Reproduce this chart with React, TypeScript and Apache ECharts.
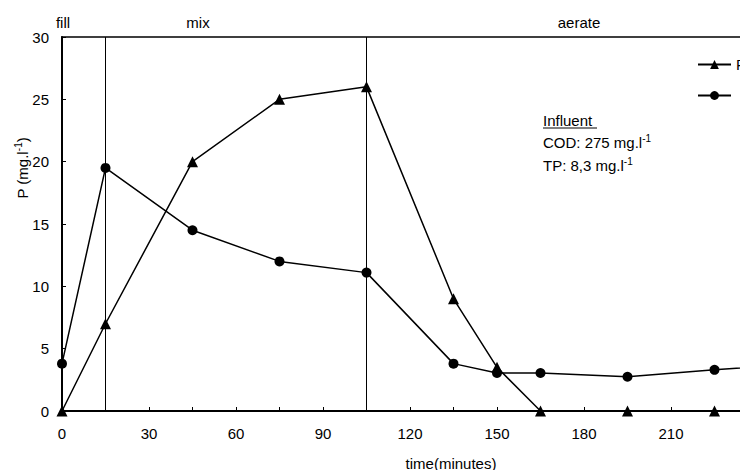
import React, { useEffect, useRef } from "react";
import * as echarts from "echarts";

const timeMin = [0, 15, 45, 75, 105, 135, 150, 165, 195, 225, 255];
const pRelease = [0, 7, 20, 25, 26, 9, 3.5, 0, 0, 0, 0];
const pOther = [3.8, 19.5, 14.5, 12, 11.1, 3.8, 3.05, 3.05, 2.75, 3.3, 3.8];
const phaseNames = ["fill", "mix", "aerate"];
const phaseBounds = [15, 105];
const yTicks = [0, 5, 10, 15, 20, 25, 30];

const FONT = "Liberation Sans, Arial, sans-serif";
const FS = 15;

export default function App() {
  const ref = useRef<HTMLDivElement>(null);
  useEffect(() => {
    if (!ref.current) return;
    const chart = echarts.init(ref.current, undefined, { renderer: "svg" });
    const sup = { fontSize: 10, verticalAlign: "top", lineHeight: 17, fontFamily: FONT, color: "#000" };
    const base = { fontSize: FS, lineHeight: 17, fontFamily: FONT, color: "#000" };
    const centered = { align: "center", verticalAlign: "middle", textAlign: "center", textVerticalAlign: "middle" };
    const lefted = { align: "left", verticalAlign: "middle", textAlign: "left", textVerticalAlign: "middle" };
    const font = `${FS}px ${FONT}`;
    chart.setOption({
      animation: false,
      backgroundColor: "#fff",
      textStyle: { fontFamily: FONT, color: "#000" },
      grid: {
        left: 62,
        top: 37,
        width: 696,
        bottom: 59,
        show: true,
        borderColor: "#000",
        borderWidth: 1.5,
      },
      legend: {
        orient: "vertical",
        left: 692,
        top: 52,
        itemWidth: 33,
        itemHeight: 11,
        itemGap: 16,
        textStyle: { fontSize: FS, fontFamily: FONT, color: "#000" },
        data: ["P-release", " P-uptake"],
      },
      xAxis: {
        type: "value",
        min: 0,
        max: 240,
        interval: 15,
        axisLine: { show: true, lineStyle: { color: "#000", width: 2 } },
        axisTick: { show: true, inside: true, length: 4, lineStyle: { color: "#000" } },
        splitLine: { show: false },
        axisLabel: {
          fontSize: FS,
          fontFamily: FONT,
          color: "#000",
          margin: 15,
          formatter: (v: number) => (v % 30 === 0 && v < 240 ? String(v) : ""),
        },
      },
      yAxis: {
        type: "value",
        min: yTicks[0],
        max: yTicks[yTicks.length - 1],
        interval: 5,
        axisLine: { show: true, lineStyle: { color: "#000", width: 2 } },
        axisTick: { show: true, inside: true, length: 4, lineStyle: { color: "#000" } },
        splitLine: { show: false },
        axisLabel: { fontSize: FS, fontFamily: FONT, color: "#000", margin: 13 },
      },
      series: [
        {
          name: "P-release",
          type: "line",
          data: timeMin.map((t, i) => [t, pRelease[i]]),
          symbol: "triangle",
          symbolSize: 11,
          itemStyle: { color: "#000" },
          lineStyle: { color: "#000", width: 1.5 },
          markLine: {
            silent: true,
            symbol: "none",
            label: { show: false },
            lineStyle: { color: "#000", width: 1, type: "solid" },
            data: phaseBounds.map((x) => ({ xAxis: x })),
          },
        },
        {
          name: " P-uptake",
          type: "line",
          data: timeMin.map((t, i) => [t, pOther[i]]),
          symbol: "circle",
          symbolSize: 10,
          itemStyle: { color: "#000" },
          lineStyle: { color: "#000", width: 1.5 },
        },
      ],
      graphic: [
        { type: "text", x: 63, y: 22, style: { text: phaseNames[0], font, fill: "#000", ...centered } },
        { type: "text", x: 198, y: 22, style: { text: phaseNames[1], font, fill: "#000", ...centered } },
        { type: "text", x: 579, y: 22, style: { text: phaseNames[2], font, fill: "#000", ...centered } },
        { type: "text", x: 543, y: 120, style: { text: "Influent", font, fill: "#000", ...lefted } },
        { type: "line", shape: { x1: 543, y1: 128, x2: 597, y2: 128 }, style: { stroke: "#000", lineWidth: 1 } },
        {
          type: "text",
          x: 543,
          y: 142,
          style: { text: "{a|COD: 275 mg.l}{s|-1}", rich: { a: base, s: sup }, fill: "#000", ...lefted },
        },
        {
          type: "text",
          x: 543,
          y: 165,
          style: { text: "{a|TP: 8,3 mg.l}{s|-1}", rich: { a: base, s: sup }, fill: "#000", ...lefted },
        },
        {
          type: "text",
          x: 22,
          y: 168,
          rotation: Math.PI / 2,
          style: { text: "{a|P (mg.l}{s|-1}{a|)}", rich: { a: base, s: sup }, fill: "#000", ...centered },
        },
        { type: "text", x: 451, y: 463, style: { text: "time(minutes)", font, fill: "#000", ...centered } },
      ],
    });
    return () => chart.dispose();
  }, []);
  return (
    <div style={{ position: "fixed", left: 0, top: 0, width: 740, height: 470, overflow: "hidden", background: "#fff" }}>
      <div ref={ref} style={{ width: 820, height: 470 }} />
    </div>
  );
}
